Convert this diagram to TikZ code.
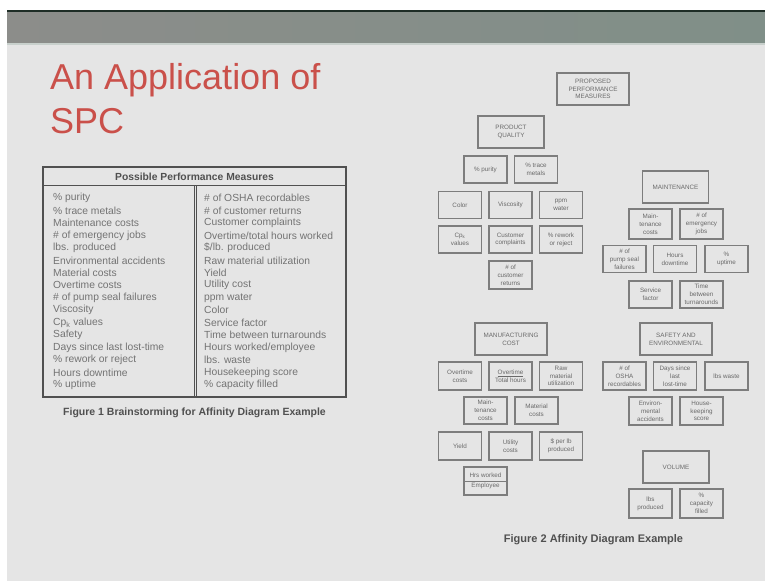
\documentclass[tikz,border=0pt]{standalone}
\usepackage{fontspec}
\setmainfont{Liberation Sans}
\definecolor{bg}{RGB}{229,229,229}
\definecolor{bandA}{RGB}{140,141,138}
\definecolor{bandB}{RGB}{128,143,136}
\definecolor{bandtop}{RGB}{30,45,38}
\definecolor{bandlow}{RGB}{200,208,204}
\definecolor{titlered}{RGB}{202,80,74}
\definecolor{tabline}{RGB}{80,80,80}
\definecolor{tabtext}{RGB}{115,115,115}
\definecolor{boxline}{RGB}{125,125,125}
\definecolor{boxtext}{RGB}{105,105,105}
\tikzset{
  titletext/.style={anchor=base west,inner sep=0,text=titlered,font=\fontsize{36}{40}\selectfont},
  tabitem/.style={anchor=west,inner sep=0,text=tabtext,font=\fontsize{10.3}{12}\selectfont},
  caption/.style={inner sep=0,text=tabline,font=\bfseries\fontsize{10.5}{12}\selectfont},
  sbox/.style={draw=boxline,line width=1.5pt,
     minimum width=43pt,minimum height=27pt,inner sep=0,align=center,text=boxtext,
     font=\fontsize{6.3}{7.8}\selectfont},
  hbox/.style={sbox,minimum width=66pt,minimum height=32pt},
  wbox/.style={sbox,minimum width=72pt,minimum height=32pt}
}
\begin{document}
\begin{tikzpicture}[x=1pt,y=-1pt]
\useasboundingbox (0,0) rectangle (765,581);
\fill[white] (0,0) rectangle (765,581);
\fill[bg] (7,10) rectangle (765,581);
\shade[left color=bandA,right color=bandB] (7,10) rectangle (765,43);
\fill[bandtop] (7,10) rectangle (765,11.5);
\fill[bandlow] (7,42.5) rectangle (765,44.5);

% title
\node[titletext] (t1) at (50,89) {An Application of};
\node[titletext] (t2) at (50,133) {SPC};

% table
\draw[tabline,line width=1.6pt] (43,167) rectangle (346,397);
\draw[tabline,line width=1.3pt] (43,185.5) -- (346,185.5);
\draw[tabline,line width=0.8pt] (194,185.5) -- (194,397);
\draw[tabline,line width=0.8pt] (196.8,185.5) -- (196.8,397);
\node[inner sep=0,text=tabline,font=\bfseries\fontsize{10.3}{12}\selectfont] (thead) at (194.5,177) {Possible Performance Measures};
\foreach \t [count=\i from 0] in {\% purity,\% trace metals,Maintenance costs,\# of emergency jobs,lbs. produced,Environmental accidents,Material costs,Overtime costs,\# of pump seal failures,Viscosity,Cp\textsubscript{k} values,Safety,Days since last lost-time,\% rework or reject,Hours downtime,\% uptime}
  \node[tabitem] (L\i) at (53,198+12.47*\i) {\t};
\foreach \t [count=\i from 0] in {\# of OSHA recordables,\# of customer returns,Customer complaints,Overtime/total hours worked,\$/lb. produced,Raw material utilization,Yield,Utility cost,ppm water,Color,Service factor,Time between turnarounds,Hours worked/employee,lbs. waste,Housekeeping score,\% capacity filled}
  \node[tabitem] (R\i) at (204,198+12.47*\i) {\t};
\node[caption] (cap1) at (194.5,413) {Figure 1 Brainstorming for Affinity Diagram Example};

% affinity diagram
\node[wbox] (ppm) at (593,89) {PROPOSED\\PERFORMANCE\\MEASURES};

\node[hbox] (pq) at (511,132) {PRODUCT\\QUALITY};
\node[sbox] (pur) at (485.5,169.5) {\% purity};
\node[sbox] (trace) at (536,169.5) {\% trace\\metals};
\node[sbox] (color) at (460,205) {Color};
\node[sbox] (visc) at (510.5,205) {Viscosity};
\node[sbox] (ppmw) at (561,205) {ppm\\water};
\node[sbox] (cpk) at (460,239.5) {Cp\textsubscript{k}\\values};
\node[sbox] (compl) at (510.5,239.5) {Customer\\complaints};
\node[sbox] (rework) at (561,239.5) {\% rework\\or reject};
\node[sbox,minimum height=28pt] (returns) at (510.5,275) {\# of\\customer\\returns};

\node[hbox] (maint) at (675.5,187) {MAINTENANCE};
\node[sbox,minimum height=30pt] (mcost) at (650.5,224) {Main-\\tenance\\costs};
\node[sbox,minimum height=30pt] (emerg) at (701.5,224) {\# of\\emergency\\jobs};
\node[sbox] (pump) at (624.5,259) {\# of\\pump seal\\failures};
\node[sbox] (hdown) at (675,259) {Hours\\downtime};
\node[sbox] (upt) at (726.5,259) {\%\\uptime};
\node[sbox] (serv) at (650.5,294.5) {Service\\factor};
\node[sbox] (turn) at (701.5,294.5) {Time\\between\\turnarounds};

\node[wbox] (mc) at (511,339) {MANUFACTURING\\COST};
\node[sbox,minimum height=28pt] (otc) at (460,376) {Overtime\\costs};
\node[sbox,minimum height=28pt] (ott) at (510.5,376) {\underline{Overtime}\\Total hours};
\node[sbox,minimum height=28pt] (raw) at (561,376) {Raw\\material\\utilization};
\node[sbox] (mcost2) at (485.5,410.5) {Main-\\tenance\\costs};
\node[sbox] (matc) at (536.5,410.5) {Material\\costs};
\node[sbox,minimum height=28pt] (yield) at (460,446) {Yield};
\node[sbox,minimum height=28pt] (util) at (510.5,446) {Utility\\costs};
\node[sbox,minimum height=28pt] (perlb) at (561,446) {\$ per lb\\produced};
\node[sbox,minimum height=28pt,font=\fontsize{6.3}{10}\selectfont] (hrs) at (485.5,481) {Hrs worked\\Employee};
\draw[boxline,line width=0.6pt] (hrs.west) -- (hrs.east);

\node[wbox] (se) at (676,339) {SAFETY AND\\ENVIRONMENTAL};
\node[sbox,minimum height=28pt] (osha) at (624.5,376) {\# of\\OSHA\\recordables};
\node[sbox,minimum height=28pt] (days) at (675,376) {Days since\\last\\lost-time};
\node[sbox,minimum height=28pt] (waste) at (726.5,376) {lbs waste};
\node[sbox,minimum height=28pt] (env) at (650.5,411) {Environ-\\mental\\accidents};
\node[sbox,minimum height=28pt] (house) at (701.5,411) {House-\\keeping\\score};

\node[hbox] (vol) at (676,467) {VOLUME};
\node[sbox,minimum height=29pt] (lbsp) at (650.5,503.5) {lbs\\produced};
\node[sbox,minimum height=29pt] (cap) at (701.5,503.5) {\%\\capacity\\filled};

\node[caption,font=\bfseries\fontsize{11}{13}\selectfont] (cap2) at (593.5,540) {Figure 2 Affinity Diagram Example};
\end{tikzpicture}
\end{document}
